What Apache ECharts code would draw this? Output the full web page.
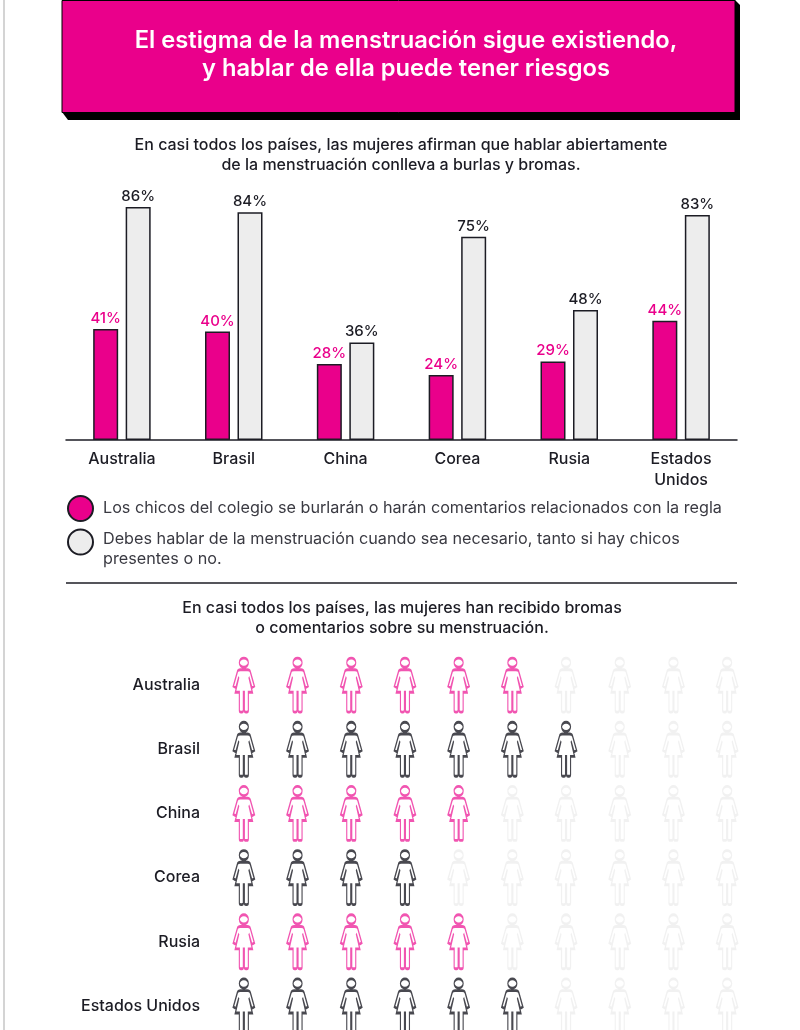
<!DOCTYPE html>
<html>
<head>
<meta charset="utf-8">
<style>
html, body { margin: 0; padding: 0; background: #fff; }
#main { width: 800px; height: 1030px; }
</style>
<script src="https://cdn.jsdelivr.net/npm/echarts@6/dist/echarts.min.js"></script>
</head>
<body>
<div id="main"></div>
<script>
var barCountries = ["Australia", "Brasil", "China", "Corea", "Rusia", "Estados\nUnidos"];
var burlasValues = [41, 40, 28, 24, 29, 44];
var hablarValues = [86, 84, 36, 75, 48, 83];
var burlasName = "Los chicos del colegio se burlarán o harán comentarios relacionados con la regla";
var hablarName = "Debes hablar de la menstruación cuando sea necesario, tanto si hay chicos\npresentes o no.";

var iconCountries = ["Australia", "Brasil", "China", "Corea", "Rusia", "Estados Unidos"];
var iconCounts = [6, 7, 5, 4, 5, 6];
var iconSlots = ["1", "2", "3", "4", "5", "6", "7", "8", "9", "10"];

var pink = "#EA008B";
var pinkIcon = "#EE2A9E";
var dark = "#1c1c24";
var grey = "#EDEDED";
var font = "Inter";

// silueta de mujer
var womanPath = "path://M6 5A4.5 4.5 0 1 1 15 5A4.5 4.5 0 1 1 6 5Z" +
	"M7 12L14 12Q16.5 12 17 14L21 28L18.5 29.5L15.5 19L19 34L15 34L15 52Q15 53.5 13.5 53.5L12.5 53.5Q11 53.5 11 52L11 34L10 34L10 52Q10 53.5 8.5 53.5L7.5 53.5Q6 53.5 6 52L6 34L2 34L5.5 19L2.5 29.5L0 28L4 14Q4.5 12 7 12Z";

function iconPoints() {
	var points = [];
	for (var row = 0; row < iconCountries.length; row++) {
		for (var slot = 0; slot < iconSlots.length; slot++) {
			var color = "#EEEEEE";
			if (slot < iconCounts[row]) {
				color = row % 2 == 0 ? pinkIcon : dark;
			}
			points.push({
				value: [slot, row],
				itemStyle: { color: "none", borderColor: color, borderWidth: 1.8 }
			});
		}
	}
	return points;
}

// el circulo va a la altura de la primera linea, no en el centro del texto
function hablarLegendText(name) {
	var lines = name.split("\n");
	return "{s| }\n{t|" + lines[0] + "}\n{t|" + lines[1] + "}";
}

var chart = echarts.init(document.getElementById("main"));

chart.setOption({
	backgroundColor: "#fff",
	animation: false,
	textStyle: { fontFamily: font },
	legend: [{
		data: [burlasName],
		left: 62,
		top: 490,
		itemWidth: 25,
		itemHeight: 25,
		icon: "circle",
		textStyle: { fontSize: 16.2, color: "#3a3a42", padding: [0, 0, 0, 5], fontFamily: font }
	}, {
		data: [hablarName],
		left: 62,
		top: 512,
		itemWidth: 25,
		itemHeight: 25,
		icon: "circle",
		formatter: hablarLegendText,
		textStyle: {
			padding: [0, 0, 0, 5],
			rich: {
				s: { fontSize: 10, lineHeight: 14 },
				t: { fontSize: 16.2, lineHeight: 20, color: "#3a3a42", fontFamily: font }
			}
		}
	}],
	grid: [
		{ left: 66, top: 169, width: 671, height: 271, outerBoundsMode: "none" },
		{ left: 217, top: 653, width: 537, height: 385, outerBoundsMode: "none" }
	],
	xAxis: [{
		type: "category",
		gridIndex: 0,
		data: barCountries,
		axisTick: { show: false },
		axisLine: { lineStyle: { color: dark, width: 1.5 } },
		axisLabel: { color: dark, fontSize: 16, fontWeight: 500, margin: 9, lineHeight: 21, interval: 0, fontFamily: font }
	}, {
		type: "category",
		gridIndex: 1,
		data: iconSlots,
		show: false
	}],
	yAxis: [{
		type: "value",
		gridIndex: 0,
		min: 0,
		max: 100,
		show: false
	}, {
		type: "category",
		gridIndex: 1,
		inverse: true,
		data: iconCountries,
		axisLine: { show: false },
		axisTick: { show: false },
		axisLabel: { color: dark, fontSize: 16, fontWeight: 500, margin: 17, fontFamily: font }
	}],
	series: [{
		name: burlasName,
		type: "bar",
		xAxisIndex: 0,
		yAxisIndex: 0,
		data: burlasValues,
		barWidth: 25,
		barGap: "30%",
		itemStyle: { color: pink, borderColor: dark, borderWidth: 1.5 },
		label: { show: true, position: "top", distance: 3, formatter: "{c}%", color: pink, fontSize: 15, fontWeight: 500, fontFamily: font }
	}, {
		name: hablarName,
		type: "bar",
		xAxisIndex: 0,
		yAxisIndex: 0,
		data: hablarValues,
		barWidth: 25,
		itemStyle: { color: grey, borderColor: dark, borderWidth: 1.5 },
		label: { show: true, position: "top", distance: 3, formatter: "{c}%", color: dark, fontSize: 15, fontWeight: 500, fontFamily: font }
	}, {
		name: "iconos",
		type: "scatter",
		xAxisIndex: 1,
		yAxisIndex: 1,
		symbol: womanPath,
		symbolSize: [21, 54],
		data: iconPoints()
	}],
	graphic: [
		{ type: "line", shape: { x1: 4, y1: 0, x2: 4, y2: 1030 }, style: { stroke: "#d4d4d4", lineWidth: 2 } },
		{ type: "polygon", shape: { points: [[62, 112], [68, 120], [740, 120], [740, 5], [735, 0]] }, style: { fill: "#000" } },
		{ type: "rect", shape: { x: 62, y: 0.5, width: 673, height: 112 }, style: { fill: pink, stroke: "#000", lineWidth: 1 } },
		{
			type: "text",
			x: 406,
			y: 27,
			style: {
				text: "El estigma de la menstruación sigue existiendo,\ny hablar de ella puede tener riesgos",
				fill: "#fff",
				font: "600 23.7px " + font,
				textAlign: "center",
				lineHeight: 28
			}
		},
		{
			type: "text",
			x: 401,
			y: 135,
			style: {
				text: "En casi todos los países, las mujeres afirman que hablar abiertamente\nde la menstruación conlleva a burlas y bromas.",
				fill: dark,
				font: "500 16px " + font,
				textAlign: "center",
				lineHeight: 20
			}
		},
		{ type: "line", shape: { x1: 66, y1: 583, x2: 737, y2: 583 }, style: { stroke: dark, lineWidth: 1.5 } },
		{
			type: "text",
			x: 402,
			y: 598,
			style: {
				text: "En casi todos los países, las mujeres han recibido bromas\no comentarios sobre su menstruación.",
				fill: dark,
				font: "500 16px " + font,
				textAlign: "center",
				lineHeight: 20
			}
		}
	]
});
</script>
</body>
</html>
